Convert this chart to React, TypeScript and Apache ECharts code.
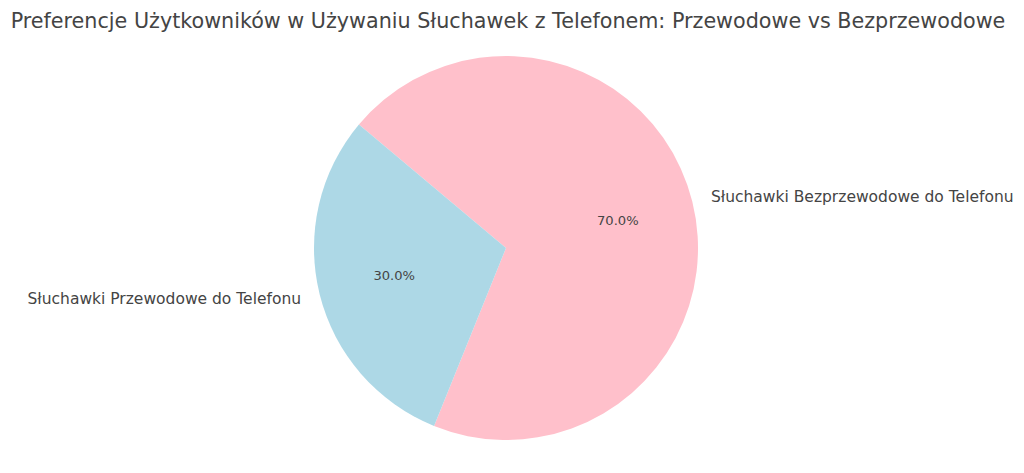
import React, { useEffect, useRef } from 'react';
import * as echarts from 'echarts';

const chartTitle =
  'Preferencje Użytkowników w Używaniu Słuchawek z Telefonem: Przewodowe vs Bezprzewodowe';

// kolejność zgodna z rysunkiem (zgodnie z ruchem wskazówek od 140°)
const categories = ['Słuchawki Bezprzewodowe do Telefonu', 'Słuchawki Przewodowe do Telefonu'];
const shares = [70, 30];
const sliceColors = ['#ffc0cb', '#add8e6'];

const FONT = '"DejaVu Sans", sans-serif';
const TEXT_COLOR = '#444444';
const CX = 506;
const CY = 248;
const R = 192;

const App: React.FC = () => {
  const chartRef = useRef<HTMLDivElement>(null);

  useEffect(() => {
    if (!chartRef.current) return;
    const chart = echarts.init(chartRef.current, null, { renderer: 'svg' });

    const data = categories.map((name, i) => ({
      name,
      value: shares[i],
      itemStyle: { color: sliceColors[i] }
    }));

    const option: echarts.EChartsOption = {
      animation: false,
      backgroundColor: '#ffffff',
      title: {
        text: chartTitle,
        left: CX - 3,
        top: 5,
        textAlign: 'center',
        textStyle: {
          fontFamily: FONT,
          fontSize: 20.7,
          fontWeight: 'normal',
          color: TEXT_COLOR
        }
      },
      series: [
        {
          type: 'pie',
          center: [CX, CY],
          radius: [0, R],
          startAngle: 140,
          clockwise: true,
          avoidLabelOverlap: false,
          silent: true,
          data,
          label: {
            position: 'outside',
            formatter: '{b}',
            fontFamily: FONT,
            fontSize: 15.5,
            color: TEXT_COLOR,
            distanceToLabelLine: 0
          },
          labelLine: { show: false, length: R * 0.1, length2: 0 }
        },
        {
          // przezroczysta nakładka tylko dla etykiet procentowych (0.6 R)
          type: 'pie',
          center: [CX, CY],
          radius: [R * 0.2 - 6, R],
          startAngle: 140,
          clockwise: true,
          avoidLabelOverlap: false,
          silent: true,
          data: categories.map((name, i) => ({
            name,
            value: shares[i],
            itemStyle: { color: 'transparent' }
          })),
          label: {
            position: 'inside',
            formatter: (p: { value: number }) => `${p.value.toFixed(1)}%`,
            fontFamily: FONT,
            fontSize: 13.1,
            color: TEXT_COLOR
          },
          labelLine: { show: false }
        }
      ]
    };

    chart.setOption(option);
    return () => {
      chart.dispose();
    };
  }, []);

  return (
    <div
      ref={chartRef}
      style={{ position: 'absolute', left: 0, top: 0, width: 1024, height: 473 }}
    />
  );
};

export default App;
